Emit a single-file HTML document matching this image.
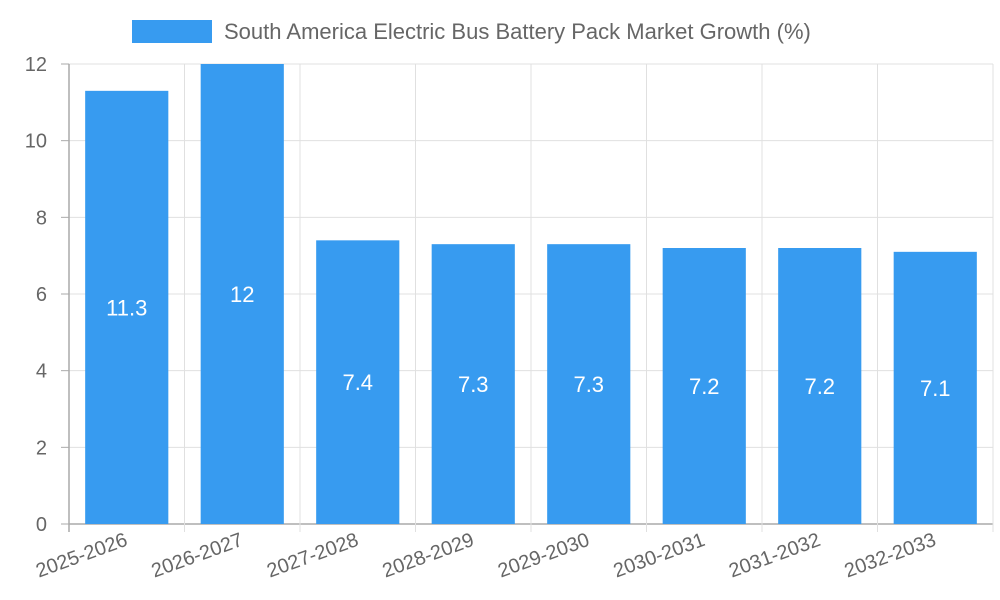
<!DOCTYPE html>
<html><head><meta charset="utf-8"><style>
html,body{margin:0;padding:0;background:#fff;}
svg{display:block;font-family:"Liberation Sans",sans-serif;}
</style></head><body>
<svg id="chart" width="1000" height="600"></svg>
<script>
const categories = ["2025-2026","2026-2027","2027-2028","2028-2029","2029-2030","2030-2031","2031-2032","2032-2033"];
const growthValues = [11.3, 12, 7.4, 7.3, 7.3, 7.2, 7.2, 7.1];
const yTickLabels = [0, 2, 4, 6, 8, 10, 12];

const NS = "http://www.w3.org/2000/svg";
const svgEl = document.getElementById("chart");
const plotLeft = 69, plotRight = 993, plotTop = 64, plotBottom = 524, yMax = 12;
const band = (plotRight - plotLeft) / categories.length;
const yScale = v => plotBottom - (v / yMax) * (plotBottom - plotTop);
const xScale = i => plotLeft + i * band;

function mk(tag, attrs, parent) {
  const e = document.createElementNS(NS, tag);
  for (const k in attrs) e.setAttribute(k, attrs[k]);
  (parent || svgEl).appendChild(e);
  return e;
}

// legend
const lg = mk("g", {});


mk("rect", {x:132, y:20, width:80, height:23, fill:"#379bf0"}, lg);
const lt = mk("text", {x:224, y:39, "font-size":22, fill:"#666"}, lg);
lt.textContent = "South America Electric Bus Battery Pack Market Growth (%)";

// horizontal grid + y ticks
yTickLabels.forEach(v => {
  const y = yScale(v);
  const gl = mk("line", {x1:plotLeft, x2:plotRight, y1:y, y2:y, stroke: v===0 ? "#aaa" : "#e0e0e0", "stroke-width": v===0 ? 1.5 : 1});
  
  
  mk("line", {x1:plotLeft-8, x2:plotLeft, y1:y, y2:y, stroke:"#aaa"});
  const t = mk("text", {x:47, y:y+7, "font-size":20, fill:"#666", "text-anchor":"end"});
  
  
  t.textContent = v;
});

// vertical grid
for (let i = 0; i <= categories.length; i++) {
  const x = xScale(i);
  const vl = mk("line", {x1:x, x2:x, y1:plotTop, y2:plotBottom+8, stroke: i===0 ? "#aaa" : "#e0e0e0", "stroke-width": i===0 ? 1.5 : 1});
  
  
}

// bars
categories.forEach((c, i) => {
  const v = growthValues[i];
  const bw = band * 0.72;
  const cx = xScale(i) + band / 2;
  const y = yScale(v);
  const r = mk("rect", {x:cx - bw/2, y:y, width:bw, height:plotBottom - y, fill:"#379bf0"});
  
  
  const vt = mk("text", {x:cx, y:(y + plotBottom)/2 + 8, "font-size":22, fill:"#fff", "text-anchor":"middle"});
  
  
  vt.textContent = v;
  const xt = mk("text", {x:0, y:0, "font-size":20, fill:"#666", "text-anchor":"end",
    transform:"translate(" + (cx+2) + ",545) rotate(-20)"});
  
  
  xt.textContent = c;
});
</script>
</body></html>
